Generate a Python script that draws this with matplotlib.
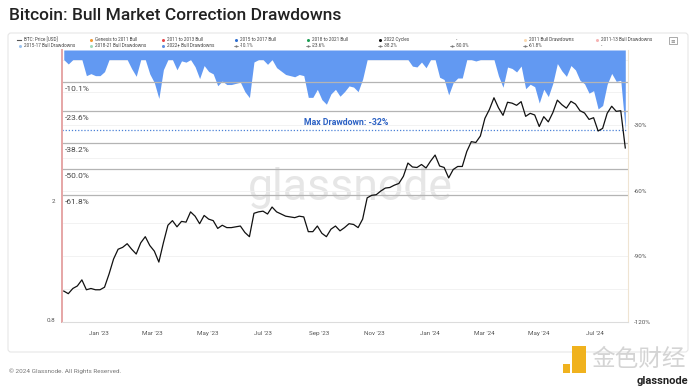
import numpy as np
import pandas as pd
import matplotlib
matplotlib.use('Agg')
import matplotlib.pyplot as plt
import matplotlib.dates as mdates
import matplotlib.transforms as mtransforms
from matplotlib.patches import FancyBboxPatch, Rectangle
from matplotlib.ticker import FixedLocator, FixedFormatter, NullLocator, MultipleLocator

plt.rcParams['font.family'] = ['Roboto', 'DejaVu Sans']

# ---- data ----
# BTC price in left-axis units, one value every 5 days from 2022-11-23
start_date = '2022-11-23'
btc_price = [
    1.00, 0.98, 1.02, 1.04, 1.09, 1.01, 1.02, 1.01, 1.01, 1.03,
    1.14, 1.28, 1.38, 1.40, 1.44, 1.38, 1.33, 1.45, 1.52, 1.42,
    1.36, 1.25, 1.45, 1.66, 1.72, 1.64, 1.71, 1.70, 1.84, 1.78,
    1.68, 1.79, 1.74, 1.72, 1.62, 1.66, 1.63, 1.63, 1.64, 1.65,
    1.57, 1.52, 1.82, 1.84, 1.85, 1.81, 1.91, 1.84, 1.81, 1.78,
    1.77, 1.76, 1.78, 1.77, 1.58, 1.58, 1.65, 1.56, 1.52, 1.61,
    1.65, 1.59, 1.63, 1.68, 1.67, 1.63, 1.74, 2.05, 2.09, 2.10,
    2.16, 2.21, 2.22, 2.26, 2.29, 2.42, 2.68, 2.60, 2.59, 2.65,
    2.58, 2.72, 2.85, 2.62, 2.59, 2.39, 2.55, 2.61, 2.61, 2.93,
    3.16, 3.14, 3.30, 3.78, 4.05, 4.43, 4.10, 3.87, 4.28, 4.25,
    4.18, 4.30, 3.84, 3.93, 3.88, 3.55, 3.83, 3.68, 3.95, 4.35,
    4.20, 4.09, 4.31, 4.22, 4.01, 3.94, 3.75, 3.80, 3.43, 3.50,
    3.93, 4.15, 3.99, 4.01, 3.01,
]
dates = pd.date_range(start_date, periods=len(btc_price), freq='5D')

fib_levels = [-10.1, -23.6, -38.2, -50.0, -61.8]
fib_labels = ['-10.1%', '-23.6%', '-38.2%', '-50.0%', '-61.8%']
max_drawdown = -32

price_ticks = [0.8, 2]
price_tick_labels = ['0.8', '2']
dd_ticks = [-30, -60, -90, -120]
dd_tick_labels = ['-30%', '-60%', '-90%', '-120%']

legend_row1 = [('BTC: Price [USD]', '#555555', 'line'),
               ('Genesis to 2011 Bull', '#f39a33', 'dot'),
               ('2011 to 2013 Bull', '#e8474a', 'dot'),
               ('2015 to 2017 Bull', '#2f6fd0', 'dot'),
               ('2018 to 2021 Bull', '#1e9e55', 'dot'),
               ('2022 Cycles', '#111111', 'dot'),
               ('-', '#555555', 'none'),
               ('2011 Bull Drawdowns', '#fbd9b0', 'dot'),
               ('2011-13 Bull Drawdowns', '#f6b3b3', 'dot')]
legend_row2 = [('2015-17 Bull Drawdowns', '#9cc3ef', 'dot'),
               ('2018-21 Bull Drawdowns', '#9fdcb8', 'dot'),
               ('2022+ Bull Drawdowns', '#5f8fe0', 'dot'),
               ('-10.1%', '#777777', 'fib'),
               ('-23.6%', '#777777', 'fib'),
               ('-38.2%', '#777777', 'fib'),
               ('-50.0%', '#777777', 'fib'),
               ('-61.8%', '#777777', 'fib'),
               ('-', '#555555', 'none')]

price = np.array(btc_price)
drawdown = (price / np.maximum.accumulate(price) - 1) * 100

# ---- figure ----
W, H = 700, 387
fig = plt.figure(figsize=(W / 100, H / 100), dpi=100)
fig.patch.set_facecolor('white')

# background layer in pixel coords
bg = fig.add_axes([0, 0, 1, 1])
bg.set_xlim(0, W)
bg.set_ylim(H, 0)
bg.axis('off')

bg.add_patch(FancyBboxPatch((8, 33), 680, 319, boxstyle='round,pad=0,rounding_size=3',
                            fc='white', ec='#e6e6e6', lw=0.8))
bg.text(9, 15, 'Bitcoin: Bull Market Correction Drawdowns', fontsize=12.5,
        fontweight='medium', color='#222222', va='center', ha='left')
bg.text(9, 371, '\u00a9 2024 Glassnode. All Rights Reserved.', fontsize=4.6,
        color='#777777', va='center')

# legend
col_x = [20, 91, 163, 236, 308, 380, 452, 525, 597]
for row_y, row in [(39.5, legend_row1), (45.5, legend_row2)]:
    for cx, (lab, col, kind) in zip(col_x, row):
        if kind == 'line':
            bg.plot([cx - 3, cx + 1], [row_y, row_y], color=col, lw=0.8)
        elif kind == 'dot':
            bg.plot(cx, row_y, marker='o', ms=2.2, color=col, mec='none')
        elif kind == 'fib':
            bg.plot([cx - 2, cx + 2], [row_y, row_y], color=col, lw=0.5)
            bg.plot(cx, row_y, marker='o', ms=1.6, color=col, mec='none')
        bg.text(cx + 4, row_y, lab, fontsize=3.3, color='#444444', va='center')
bg.add_patch(Rectangle((669, 37), 8, 7, fc='none', ec='#888888', lw=0.5))
bg.text(673, 40.5, '\u2261', fontsize=4, color='#777777', ha='center', va='center')

# watermark
bg.text(248, 200, 'glassnode', fontsize=32, color='#e6e6e6', ha='left', va='baseline')

# bottom-right logo
bg.add_patch(Rectangle((563, 364), 7, 9, fc='#f0b21e', ec='none'))
bg.add_patch(Rectangle((572, 346), 14, 27, fc='#f0b21e', ec='none'))
bg.text(591, 359, '金色财经', fontsize=17, color='#d4d4d4', va='center',
        family=['Noto Sans CJK SC', 'DejaVu Sans'])
bg.text(688, 381, 'glassnode', fontsize=8, fontweight='bold', color='#222222',
        ha='right', va='center')

# ---- main chart ----
left, right, top, bottom = 61.5, 628, 50, 322
ax_dd = fig.add_axes([left / W, 1 - bottom / H, (right - left) / W, (bottom - top) / H])
ax_dd.patch.set_visible(False)
dd_top, dd_bottom = 4.4, -120.1
ax_dd.set_ylim(dd_bottom, dd_top)

ax_dd.fill_between(dates, drawdown, dd_top, color='#6299f2', lw=0, zorder=1)

ax_dd.yaxis.set_minor_locator(MultipleLocator(15))
ax_dd.grid(which='both', axis='y', color='#f0f0f0', lw=0.6, zorder=0)
ax_dd.set_axisbelow(True)

blend = mtransforms.blended_transform_factory(ax_dd.transAxes, ax_dd.transData)
for lvl, lab in zip(fib_levels, fib_labels):
    ax_dd.axhline(lvl, color='#b4b4b4', lw=0.9, zorder=2)
    ax_dd.text(0.006, lvl - 3.3, lab, transform=blend, fontsize=6, color='#444444',
               va='center', ha='left', zorder=3)

ax_dd.axhline(max_drawdown, color='#4a80d6', lw=0.9, ls=(0, (1, 1.5)), zorder=2)
ax_dd.text(0.503, max_drawdown + 1.2, f'Max Drawdown: {max_drawdown}%', transform=blend,
           fontsize=6.3, fontweight='bold', color='#2d62c4', ha='center', va='bottom', zorder=3)

ax_dd.set_xlim(pd.Timestamp('2022-11-20 12:00'), pd.Timestamp('2024-08-07'))
ax_dd.xaxis.set_major_locator(mdates.MonthLocator(bymonth=[1, 3, 5, 7, 9, 11]))
ax_dd.xaxis.set_major_formatter(mdates.DateFormatter("%b '%y"))
ax_dd.tick_params(axis='x', length=0, pad=6.5, labelsize=4.5, labelcolor='#555555')

for side, sp in ax_dd.spines.items():
    sp.set_visible(side != 'top')
ax_dd.spines['left'].set_color('#e6a6a6')
ax_dd.spines['left'].set_linewidth(1.4)
ax_dd.spines['bottom'].set_color('#dcdcdc')
ax_dd.spines['bottom'].set_linewidth(0.8)
ax_dd.spines['right'].set_color('#efe4d2')
ax_dd.spines['right'].set_linewidth(0.8)

# price on log scale, ticks on the left
ax_p = ax_dd.twinx()
ax_p.set_yscale('log')
ax_p.set_ylim(0.788, 6.40)
ax_p.plot(dates, btc_price, color='#111111', lw=0.9, zorder=4)
ax_p.yaxis.tick_left()
ax_p.yaxis.set_major_locator(FixedLocator(price_ticks))
ax_p.yaxis.set_major_formatter(FixedFormatter(price_tick_labels))
ax_p.yaxis.set_minor_locator(NullLocator())
ax_p.tick_params(axis='y', which='both', length=0, pad=4.5, labelsize=4.5, labelcolor='#555555')
for sp in ax_p.spines.values():
    sp.set_visible(False)

# drawdown ticks on the right (after twinx, which resets sides)
ax_dd.yaxis.tick_right()
ax_dd.yaxis.set_major_locator(FixedLocator(dd_ticks))
ax_dd.yaxis.set_major_formatter(FixedFormatter(dd_tick_labels))
ax_dd.tick_params(axis='y', which='both', length=0, pad=4.3, labelsize=4.5, labelcolor='#555555',
                  left=False, labelleft=False, right=True, labelright=True)

fig.savefig('out.png', dpi=100)
